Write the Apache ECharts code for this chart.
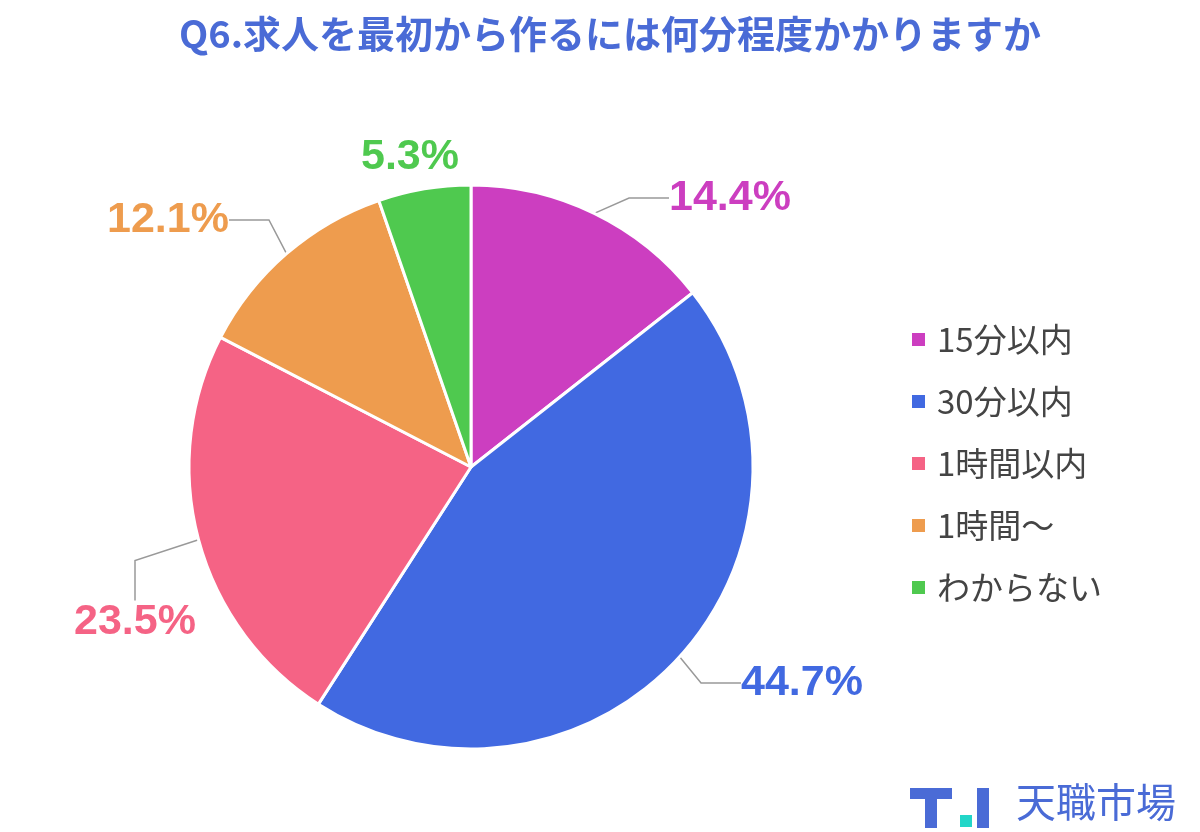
<!DOCTYPE html><html><head><meta charset="utf-8">
<script src="https://cdn.jsdelivr.net/npm/echarts@6/dist/echarts.min.js"></script>
<style>html,body{margin:0;background:#fff}#c{width:1200px;height:832px}</style></head><body><div id="c"></div>
<script>
const categories=['15分以内','30分以内','1時間以内','1時間〜','わからない'];
const values=[14.4,44.7,23.5,12.1,5.3];
const colors=['#CC3EC0','#4169E1','#F56385','#EE9C4E','#4FC94F'];
const title='Q6.求人を最初から作るには何分程度かかりますか';
const labelPos=[[730,198],[802,683],[135,622],[168,220],[410,157]];
const chart=echarts.init(document.getElementById('c'));
const F='"Noto Sans CJK JP","Noto Sans",sans-serif';
chart.setOption({
 title:{text:title,left:605,top:10,textAlign:'center',textStyle:{color:'#4A6BD6',fontSize:38,fontWeight:'bold',fontFamily:F}},
 legend:{orient:'vertical',left:905,top:318,itemWidth:15,itemHeight:15,itemGap:29,icon:'rect',
  textStyle:{fontSize:33,color:'#444',fontFamily:F,padding:[0,0,0,6]},data:categories},
 series:[{type:'pie',center:[471,467],radius:282,startAngle:90,clockwise:true,
  data:categories.map((n,i)=>({name:n,value:values[i],itemStyle:{color:colors[i]},
    label:{color:colors[i]},labelLine:{show:i!==4}})),
  itemStyle:{borderColor:'#fff',borderWidth:3},
  label:{formatter:'{d}%',fontSize:43,fontWeight:'bold',overflow:'none',width:200,fontFamily:'Liberation Sans, Arial, sans-serif'},
  labelLine:{length:25,length2:40,lineStyle:{color:'#999',width:1.5}},
  labelLayout:p=>({x:labelPos[p.dataIndex][0],y:labelPos[p.dataIndex][1],align:'center',verticalAlign:'middle'})}],
 graphic:[
  {type:'rect',shape:{x:910,y:788,width:42,height:11},style:{fill:'#4A6BD6'}},
  {type:'rect',shape:{x:925,y:788,width:12,height:40},style:{fill:'#4A6BD6'}},
  {type:'rect',shape:{x:960,y:815,width:12,height:12},style:{fill:'#22D6C8'}},
  {type:'rect',shape:{x:977,y:788,width:12,height:40},style:{fill:'#4A6BD6'}},
  {type:'text',left:1016,top:782,style:{text:'天職市場',fontSize:40,fill:'#4A6BD6',fontFamily:F}}
 ]
});
</script></body></html>
